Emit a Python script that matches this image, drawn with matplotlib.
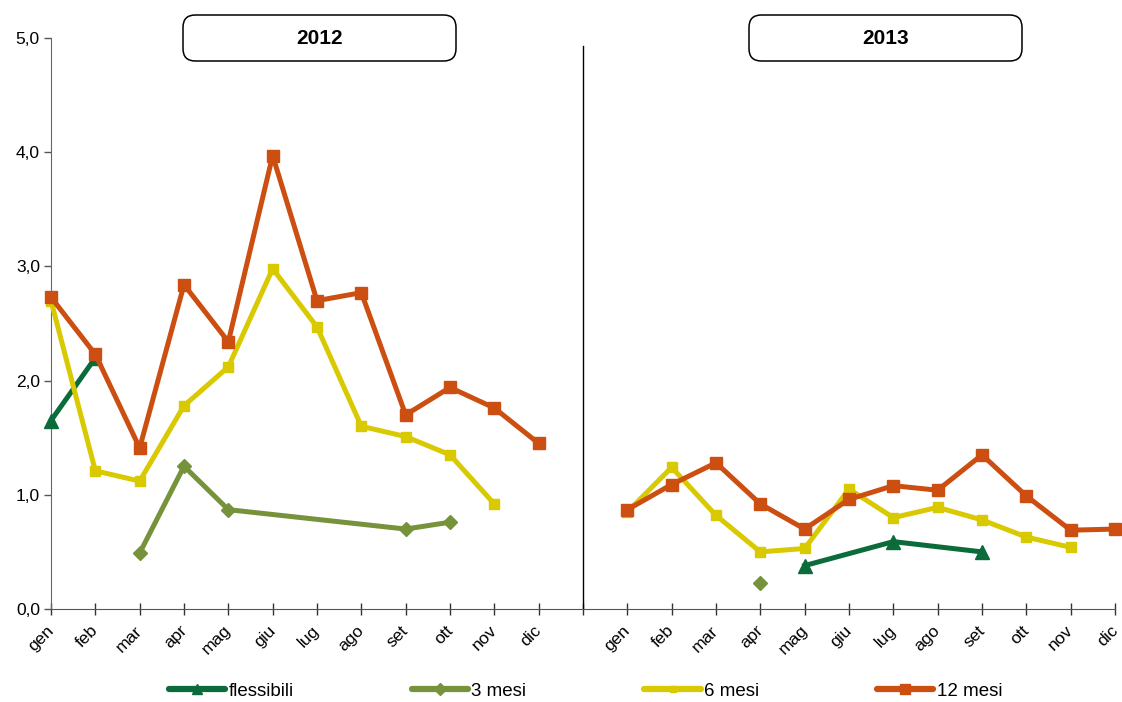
import numpy as np
import matplotlib
matplotlib.use("Agg")
import matplotlib.pyplot as plt
import matplotlib.transforms as mtransforms
from matplotlib.patches import FancyBboxPatch
from matplotlib.lines import Line2D
from matplotlib.ticker import FuncFormatter

plt.rcParams['font.family'] = ['Liberation Sans', 'DejaVu Sans']

months = ["gen", "feb", "mar", "apr", "mag", "giu", "lug", "ago", "set", "ott", "nov", "dic"]
years = ["2012", "2013"]
nan = np.nan

# monthly values per year (nan = no data)
flessibili_2012 = [1.65, 2.20, nan, nan, nan, nan, nan, nan, nan, nan, nan, nan]
flessibili_2013 = [nan, nan, nan, nan, 0.38, nan, 0.59, nan, 0.50, nan, nan, nan]
mesi3_2012 = [nan, nan, 0.49, 1.25, 0.87, nan, nan, nan, 0.70, 0.76, nan, nan]
mesi3_2013 = [nan, nan, nan, 0.23, nan, nan, nan, nan, nan, nan, nan, nan]
mesi6_2012 = [2.70, 1.21, 1.12, 1.78, 2.12, 2.98, 2.47, 1.60, 1.51, 1.35, 0.92, nan]
mesi6_2013 = [0.85, 1.24, 0.82, 0.50, 0.53, 1.05, 0.80, 0.89, 0.78, 0.63, 0.54, nan]
mesi12_2012 = [2.73, 2.23, 1.41, 2.84, 2.34, 3.97, 2.70, 2.77, 1.70, 1.94, 1.76, 1.45]
mesi12_2013 = [0.87, 1.09, 1.28, 0.92, 0.70, 0.96, 1.08, 1.04, 1.35, 0.99, 0.69, 0.70]

series = [
    ("flessibili", flessibili_2012, flessibili_2013, "#0b6b3a", "^", 10),
    ("3 mesi", mesi3_2012, mesi3_2013, "#76933c", "D", 7.5),
    ("6 mesi", mesi6_2012, mesi6_2013, "#d9c900", "s", 6.5),
    ("12 mesi", mesi12_2012, mesi12_2013, "#cc4e10", "s", 9),
]

W, H = 1122, 702
fig = plt.figure(figsize=(W / 100, H / 100), dpi=100)
ax = fig.add_axes([51 / W, 1 - 609 / H, (1115 - 51) / W, (609 - 38) / H])

offsets = [0, 13]
for name, v12, v13, color, marker, ms in series:
    for off, vals in zip(offsets, [v12, v13]):
        vals = np.array(vals, dtype=float)
        x = np.arange(12) + off
        ok = ~np.isnan(vals)
        ax.plot(x[ok], vals[ok], color=color, lw=3.6, marker=marker, ms=ms,
                solid_joinstyle="round", clip_on=False, zorder=3)

# divider between the two years
ax.plot([12, 12], [0, 4.93], color="black", lw=1, zorder=2)

ax.set_xlim(0, 24)
ax.set_ylim(0, 5)
ax.set_yticks(np.arange(0, 5.01, 1.0))
ax.yaxis.set_major_formatter(FuncFormatter(lambda v, p: f"{v:.1f}".replace(".", ",")))
ax.set_xticks(np.arange(25))
ax.set_xticklabels(months + [""] + months, rotation=45, ha="right", va="top",
                   rotation_mode="anchor")
ax.tick_params(axis="x", direction="inout", length=8, width=1, color="#333333",
               labelsize=12.5, pad=6)
ax.tick_params(axis="y", direction="out", length=5, width=1, color="#555555",
               labelsize=12.5, pad=3)
# nudge month labels a little to the left
shift = mtransforms.ScaledTranslation(-5 / 100, 0, fig.dpi_scale_trans)
for lbl in ax.get_xticklabels():
    lbl.set_transform(lbl.get_transform() + shift)
for s in ["top", "right"]:
    ax.spines[s].set_visible(False)
ax.spines["left"].set_color("#666666")
ax.spines["bottom"].set_color("#555555")

# year header boxes
for label, (x0, x1) in zip(years, [(183, 456), (749, 1022)]):
    y0, y1 = 15, 61
    box = FancyBboxPatch((x0 / W, 1 - y1 / H), (x1 - x0) / W, (y1 - y0) / H,
                         boxstyle="round,pad=0,rounding_size=0.011",
                         transform=fig.transFigure, fc="white", ec="black", lw=1.1,
                         mutation_aspect=W / H)
    fig.patches.append(box)
    fig.text((x0 + x1) / 2 / W, 1 - (y0 + y1) / 2 / H, label, ha="center",
             va="center", fontsize=15, fontweight="bold")

handles = [Line2D([], [], color=c, lw=4.5, marker=m, ms=ms * 0.75,
                  solid_capstyle="round") for _, _, _, c, m, ms in series]
fig.legend(handles, [s[0] for s in series], loc="center", ncol=4,
           bbox_to_anchor=(0.522, 1 - 691 / H), frameon=False, fontsize=13.5,
           handlelength=3.0, handletextpad=0.17, columnspacing=6.3)

fig.savefig("out.png", dpi=100)
